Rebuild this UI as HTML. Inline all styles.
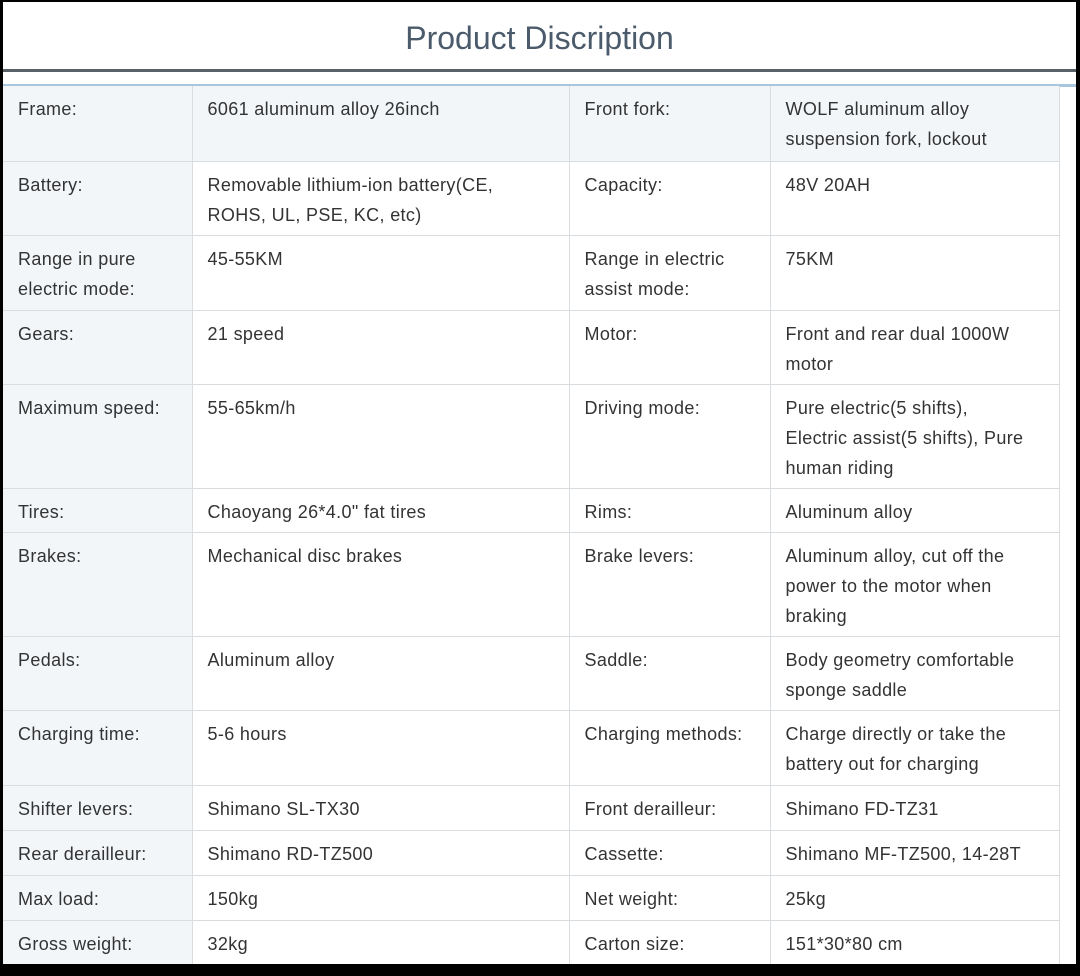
<!DOCTYPE html>
<html><head><style>
*{margin:0;padding:0;box-sizing:border-box}
body{width:1080px;height:976px;background:#000;position:relative;overflow:hidden;font-family:"Liberation Sans",sans-serif}
#page{position:absolute;left:3px;top:2px;width:1073px;height:962px;background:#fff;overflow:hidden}
#title{position:absolute;left:0;top:0;width:1073px;height:67px;text-align:center;font-size:32px;line-height:72px;color:#4b5b6b}
#dark{position:absolute;left:0;top:67px;width:1073px;height:3px;background:#5a6166}
#blue{position:absolute;left:0;top:82px;width:1073px;height:3px;background:#a8c6de}
table{position:absolute;left:0;top:84px;border-collapse:collapse;table-layout:fixed;width:1056px}
td{border:1px solid #d9dde0;vertical-align:top;padding:8px 14px 0 15px;font-size:18px;line-height:30px;color:#333;letter-spacing:0.35px}
td:first-child{border-left:none;background:#f3f6f9}
tr:first-child td{background:#f3f6f9;border-top:none}
</style></head><body>
<div id="page">
<div id="title">Product Discription</div>
<div id="dark"></div><div id="blue"></div>
<table>
<colgroup><col style="width:189px"><col style="width:377px"><col style="width:201px"><col style="width:289px"></colgroup>
<tr style="height:75px"><td>Frame:</td><td>6061 aluminum alloy 26inch</td><td>Front fork:</td><td>WOLF aluminum alloy<br>suspension fork, lockout</td></tr>
<tr style="height:74px"><td>Battery:</td><td>Removable lithium-ion battery(CE,<br>ROHS, UL, PSE, KC, etc)</td><td>Capacity:</td><td>48V 20AH</td></tr>
<tr style="height:75px"><td>Range in pure<br>electric mode:</td><td>45-55KM</td><td>Range in electric<br>assist mode:</td><td>75KM</td></tr>
<tr style="height:74px"><td>Gears:</td><td>21 speed</td><td>Motor:</td><td>Front and rear dual 1000W<br>motor</td></tr>
<tr style="height:104px"><td>Maximum speed:</td><td>55-65km/h</td><td>Driving mode:</td><td>Pure electric(5 shifts),<br>Electric assist(5 shifts), Pure<br>human riding</td></tr>
<tr style="height:44px"><td>Tires:</td><td>Chaoyang 26*4.0" fat tires</td><td>Rims:</td><td>Aluminum alloy</td></tr>
<tr style="height:104px"><td>Brakes:</td><td>Mechanical disc brakes</td><td>Brake levers:</td><td>Aluminum alloy, cut off the<br>power to the motor when<br>braking</td></tr>
<tr style="height:74px"><td>Pedals:</td><td>Aluminum alloy</td><td>Saddle:</td><td>Body geometry comfortable<br>sponge saddle</td></tr>
<tr style="height:75px"><td>Charging time:</td><td>5-6 hours</td><td>Charging methods:</td><td>Charge directly or take the<br>battery out for charging</td></tr>
<tr style="height:45px"><td>Shifter levers:</td><td>Shimano SL-TX30</td><td>Front derailleur:</td><td>Shimano FD-TZ31</td></tr>
<tr style="height:45px"><td>Rear derailleur:</td><td>Shimano RD-TZ500</td><td>Cassette:</td><td>Shimano MF-TZ500, 14-28T</td></tr>
<tr style="height:45px"><td>Max load:</td><td>150kg</td><td>Net weight:</td><td>25kg</td></tr>
<tr style="height:44px"><td>Gross weight:</td><td>32kg</td><td>Carton size:</td><td>151*30*80 cm</td></tr>
</table>
</div>
</body></html>
